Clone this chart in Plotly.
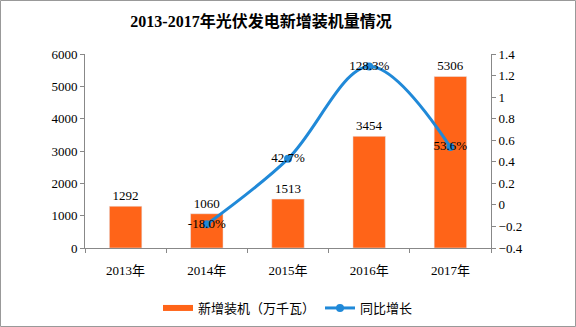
import plotly.graph_objects as go

categories = ["2013年", "2014年", "2015年", "2016年", "2017年"]
installed = [1292, 1060, 1513, 3454, 5306]
growth_years = ["2014年", "2015年", "2016年", "2017年"]
growth = [-0.180, 0.427, 1.283, 0.536]
growth_labels = ["-18.0%", "42.7%", "128.3%", "53.6%"]

font_num = "Liberation Serif, Noto Sans CJK SC, serif"
font_cjk = "Noto Sans CJK SC, sans-serif"
orange = "#FF6418"
blue = "#2089D8"

fig = go.Figure()
fig.add_trace(go.Bar(
    x=categories, y=installed, name="新增装机（万千瓦）",
    marker_color=orange, width=0.4, showlegend=False,
    text=[str(v) for v in installed], textposition="outside",
    textfont=dict(family=font_num, size=13, color="#000"),
    cliponaxis=False,
))
# legend entry for bars, drawn as thick line swatch
fig.add_trace(go.Scatter(
    x=[None], y=[None], name="新增装机（万千瓦）", mode="lines",
    line=dict(color=orange, width=6), showlegend=True,
))
fig.add_trace(go.Scatter(
    x=growth_years, y=growth, name="同比增长", yaxis="y2",
    mode="lines+markers+text", line=dict(color=blue, width=3, shape="spline", smoothing=1.0),
    marker=dict(size=8, color=blue),
    text=growth_labels, textposition="middle center",
    textfont=dict(family=font_num, size=13, color="#000"),
    cliponaxis=False,
))

W, H = 576, 327
l, r, t, b = 85, 85, 54, 79
pw, ph = W - l - r, H - t - b

fig.update_layout(
    width=W, height=H, margin=dict(l=l, r=r, t=t, b=b, autoexpand=False),
    paper_bgcolor="white", plot_bgcolor="white",
    title=dict(text="<b>2013-2017年光伏发电新增装机量情况</b>", x=(261 - l) / pw, xref="paper",
               xanchor="center", y=1 - 21 / H, yanchor="middle",
               font=dict(family=font_num, size=16, color="#000")),
    showlegend=True,
    legend=dict(orientation="h", x=(288 - l) / pw, xanchor="center", y=-60 / ph, yanchor="middle",
                font=dict(family=font_cjk, size=13, color="#000"), traceorder="normal",
                itemwidth=30),
    xaxis=dict(type="category", showline=True, linecolor="#888", linewidth=1,
               ticks="outside", tickson="boundaries", ticklen=4, tickcolor="#888",
               ticklabelstandoff=10, automargin=False,
               tickfont=dict(family=font_num, size=13, color="#000"),
               showgrid=False, zeroline=False),
    yaxis=dict(range=[0, 6000], dtick=1000, showline=True, linecolor="#888", linewidth=1,
               ticks="outside", ticklen=4, tickcolor="#888", automargin=False,
               tickfont=dict(family=font_num, size=13, color="#000"),
               showgrid=False, zeroline=False),
    yaxis2=dict(range=[-0.4, 1.4], dtick=0.2, overlaying="y", side="right",
                showline=True, linecolor="#888", linewidth=1,
                ticks="outside", ticklen=4, tickcolor="#888", automargin=False,
                tickfont=dict(family=font_num, size=13, color="#000"),
                showgrid=False, zeroline=False),
    shapes=[dict(type="rect", xref="paper", yref="paper",
                 x0=-(l - 0.5) / pw, x1=1 + (r - 0.5) / pw,
                 y0=-(b - 0.5) / ph, y1=1 + (t - 0.5) / ph,
                 line=dict(color="#999", width=1))],
)

fig.write_html("out.html")
